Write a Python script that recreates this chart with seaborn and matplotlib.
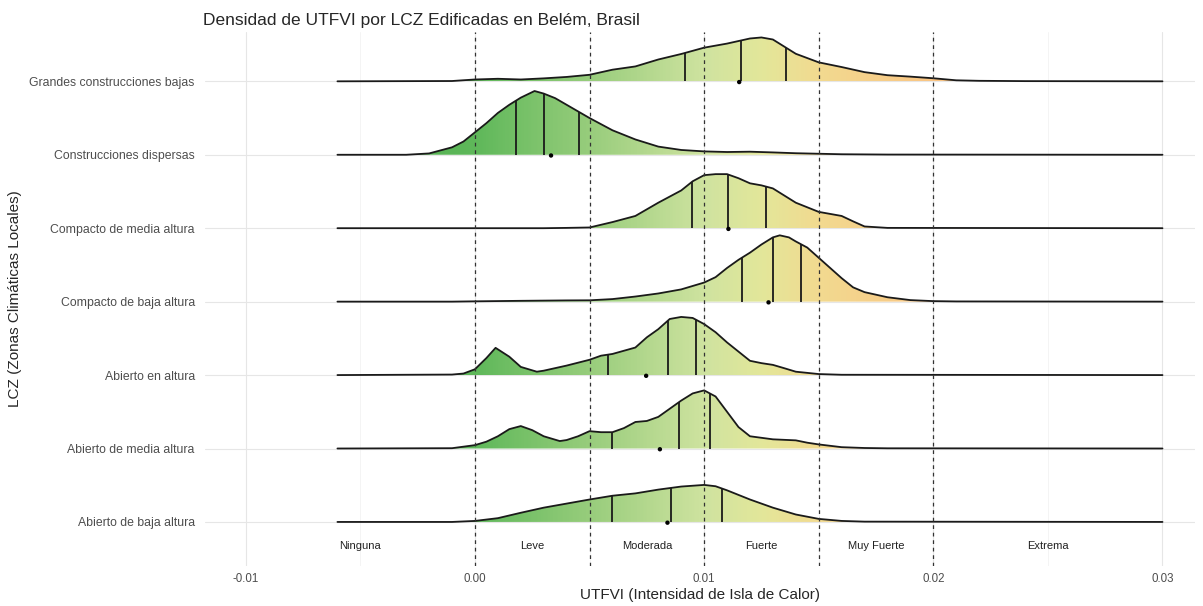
import numpy as np
import pandas as pd
import matplotlib
matplotlib.use("Agg")
import matplotlib.pyplot as plt
import seaborn as sns
from matplotlib.colors import LinearSegmentedColormap

# ------------------ Data ------------------
zonas = [
    "Grandes construcciones bajas",
    "Construcciones dispersas",
    "Compacto de media altura",
    "Compacto de baja altura",
    "Abierto en altura",
    "Abierto de media altura",
    "Abierto de baja altura",
]

# density curve samples per zone (x = UTFVI, h = relative density)
x_grandes = [-0.006, -0.001, 0.000, 0.001, 0.002, 0.003, 0.004, 0.005, 0.006, 0.007, 0.008, 0.009,
             0.010, 0.011, 0.012, 0.0125, 0.013, 0.0135, 0.014, 0.015, 0.016, 0.017, 0.018, 0.019,
             0.020, 0.021, 0.022, 0.024, 0.030]
h_grandes = [0, 0.3, 1.8, 2.5, 1.8, 2.9, 4.3, 6.4, 11.4, 14.6, 21.4, 26.8,
             33, 37, 42, 43, 41, 34, 27, 18.6, 14, 9, 6, 4.6,
             3, 1, 0.5, 0.2, 0]

x_dispersas = [-0.006, -0.003, -0.002, -0.001, -0.0005, 0.000, 0.0005, 0.001, 0.0015, 0.002, 0.0026,
               0.003, 0.0035, 0.004, 0.005, 0.006, 0.007, 0.008, 0.009, 0.010, 0.011, 0.012, 0.013,
               0.014, 0.015, 0.016, 0.018, 0.030]
h_dispersas = [0, 0, 1.3, 7.3, 13, 22, 31, 41, 49, 56, 62.5,
               60, 55.5, 49, 36, 24, 15, 8, 4.7, 3.3, 2.7, 3, 2.3,
               1.5, 1, 0.5, 0.2, 0]

x_comp_media = [-0.006, 0.003, 0.004, 0.005, 0.006, 0.007, 0.008, 0.009, 0.0095, 0.010, 0.0105, 0.011,
                0.0115, 0.012, 0.0125, 0.013, 0.0135, 0.014, 0.015, 0.0155, 0.016, 0.0165, 0.017,
                0.018, 0.030]
h_comp_media = [0, 0, 0.3, 0.7, 6, 12, 25, 37, 46, 52, 53, 53,
                49, 44, 42, 39, 32, 25, 16, 14, 12, 6.7, 1.7,
                0.3, 0]

x_comp_baja = [-0.006, -0.001, 0.000, 0.002, 0.004, 0.005, 0.006, 0.007, 0.008, 0.009, 0.010, 0.0105,
               0.011, 0.0115, 0.012, 0.0125, 0.013, 0.0133, 0.0137, 0.014, 0.0145, 0.015, 0.0155,
               0.016, 0.0165, 0.017, 0.018, 0.019, 0.020, 0.021, 0.030]
h_comp_baja = [0, 0, 0.3, 0.8, 1.2, 1.3, 2.5, 5, 8, 12, 18.7, 24,
               33, 41, 48, 56, 63, 65, 63, 59, 53, 43, 33,
               23, 14, 9.3, 4.3, 1.5, 0.5, 0.2, 0]

x_ab_altura = [-0.006, -0.001, -0.0005, 0.000, 0.0005, 0.0009, 0.0015, 0.002, 0.0027, 0.003, 0.004,
               0.005, 0.0055, 0.006, 0.007, 0.0075, 0.008, 0.0085, 0.009, 0.0095, 0.010, 0.0105,
               0.011, 0.012, 0.0125, 0.013, 0.0135, 0.014, 0.015, 0.016, 0.030]
h_ab_altura = [0, 0.5, 1.5, 5.7, 16.7, 26.7, 18, 8, 3.3, 4.3, 9.3,
               15, 19, 20.7, 27, 37, 45, 55, 57, 56, 50, 42,
               32, 14, 11.7, 10, 6.7, 3.3, 1, 0.3, 0]

x_ab_media = [-0.006, -0.001, 0.000, 0.0005, 0.001, 0.0015, 0.002, 0.0025, 0.003, 0.0037, 0.004,
              0.0045, 0.005, 0.0055, 0.006, 0.0065, 0.007, 0.0075, 0.008, 0.0085, 0.009, 0.0095,
              0.010, 0.0105, 0.011, 0.0115, 0.012, 0.013, 0.014, 0.0145, 0.015, 0.016, 0.017,
              0.018, 0.030]
h_ab_media = [0, 0.3, 3.3, 6.7, 12, 19, 22, 18, 12, 7.3, 8.3,
              12, 17, 16, 16, 20, 26, 27, 31, 39, 47, 54,
              57, 51, 36, 21, 12, 9, 8, 5.7, 4, 1.3, 0.5,
              0.2, 0]

x_ab_baja = [-0.006, -0.001, 0.000, 0.001, 0.002, 0.003, 0.004, 0.005, 0.006, 0.007, 0.008, 0.009,
             0.010, 0.0105, 0.011, 0.012, 0.013, 0.014, 0.015, 0.016, 0.017, 0.030]
h_ab_baja = [0, 0, 1, 3.7, 9, 14, 18, 22, 25.7, 28, 31.7, 34.7,
             36.3, 35, 31, 22, 14, 7.3, 3, 1, 0.3, 0]

curvas_x = [x_grandes, x_dispersas, x_comp_media, x_comp_baja, x_ab_altura, x_ab_media, x_ab_baja]
curvas_h = [h_grandes, h_dispersas, h_comp_media, h_comp_baja, h_ab_altura, h_ab_media, h_ab_baja]

q1 = [0.00917, 0.00177, 0.00948, 0.01166, 0.00580, 0.00598, 0.00597]
q2 = [0.01159, 0.00300, 0.01103, 0.01302, 0.00842, 0.00889, 0.00856]
q3 = [0.01357, 0.00454, 0.01272, 0.01421, 0.00966, 0.01024, 0.01080]
medias = [0.01153, 0.00332, 0.01106, 0.01281, 0.00747, 0.00807, 0.00840]

umbrales = [0.000, 0.005, 0.010, 0.015, 0.020]
clases = ["Ninguna", "Leve", "Moderada", "Fuerte", "Muy Fuerte", "Extrema"]
clases_x = [-0.005, 0.0025, 0.0075, 0.0125, 0.0175, 0.025]

# ------------------ Style ------------------
sns.set_theme(style="white")
plt.rcParams["font.family"] = ["Liberation Sans", "DejaVu Sans"]

SCALE = 72.0  # height units per ridge step
n = len(zonas)
base_y = [n - 1 - i for i in range(n)]

vmin, vmax = -0.006, 0.030
stops = [(-0.006, "#4AAB4A"), (0.000, "#5FB85A"), (0.005, "#98CD7C"), (0.010, "#CFE3A0"),
         (0.0125, "#E3E79A"), (0.015, "#F2DA90"), (0.020, "#FAC584"), (0.030, "#FDB878")]
cmap = LinearSegmentedColormap.from_list(
    "utfvi", [((v - vmin) / (vmax - vmin), c) for v, c in stops])
grad = np.linspace(vmin, vmax, 600)[None, :]

fig = plt.figure(figsize=(12.03, 6.06), dpi=100)
ax = fig.add_axes([0.170, 0.066, 0.823, 0.881])

# gradient fills clipped to each ridge
for i in range(n):
    xs = np.array(curvas_x[i])
    ys = base_y[i] + np.array(curvas_h[i]) / SCALE
    poly = ax.fill_between(xs, base_y[i], ys, facecolor="none", edgecolor="none")
    im = ax.imshow(grad, extent=[vmin, vmax, base_y[i], base_y[i] + 1], aspect="auto",
                   cmap=cmap, vmin=vmin, vmax=vmax, origin="lower",
                   interpolation="bilinear", zorder=2)
    im.set_clip_path(poly.get_paths()[0], ax.transData)

# ridge outlines
rows = []
for i in range(n):
    for xv, hv in zip(curvas_x[i], curvas_h[i]):
        rows.append({"zona": zonas[i], "x": xv, "y": base_y[i] + hv / SCALE})
df = pd.DataFrame(rows)
sns.lineplot(data=df, x="x", y="y", units="zona", estimator=None, sort=False,
             color="#1A1A1A", lw=1.3, ax=ax, zorder=3)

# quartile lines
for i in range(n):
    for q in (q1[i], q2[i], q3[i]):
        top = base_y[i] + np.interp(q, curvas_x[i], curvas_h[i]) / SCALE
        ax.vlines(q, base_y[i], top, color="#1A1A1A", lw=1.3, zorder=3)

# mean points
sns.scatterplot(x=medias, y=[b - 0.01 for b in base_y], color="black", s=10,
                edgecolor="none", ax=ax, zorder=5)

# thresholds
for u in umbrales:
    ax.axvline(u, ls=(0, (3, 3)), color="#333333", lw=0.9, zorder=4)
for lab, xv in zip(clases, clases_x):
    ax.text(xv, -0.33, lab, ha="center", va="center", fontsize=8, color="#222222")

# axes
ax.set_xlim(-0.0118, 0.0314)
ax.set_ylim(-0.6, 6.67)
ax.set_xticks([-0.01, 0.0, 0.01, 0.02, 0.03])
ax.set_xticklabels(["-0.01", "0.00", "0.01", "0.02", "0.03"])
ax.set_xticks([-0.005, 0.005, 0.015, 0.025], minor=True)
ax.set_yticks(base_y)
ax.set_yticklabels(zonas)
ax.grid(which="major", color="#E6E6E6", lw=0.8, zorder=0)
ax.grid(which="minor", axis="x", color="#F2F2F2", lw=0.6, zorder=0)
ax.set_axisbelow(True)
for s in ax.spines.values():
    s.set_visible(False)
ax.tick_params(axis="both", which="both", length=0, labelcolor="#4D4D4D")
ax.tick_params(axis="y", pad=7, labelsize=8.8)
ax.tick_params(axis="x", pad=5, labelsize=8.3)
ax.set_xlabel("UTFVI (Intensidad de Isla de Calor)", fontsize=11, labelpad=2)
ax.set_ylabel("LCZ (Zonas Climáticas Locales)", fontsize=11, labelpad=5)

fig.text(203 / 1203, 1 - 20 / 606, "Densidad de UTFVI por LCZ Edificadas en Belém, Brasil",
         fontsize=12.5, ha="left", va="center")

fig.savefig("out.png", dpi=100)
